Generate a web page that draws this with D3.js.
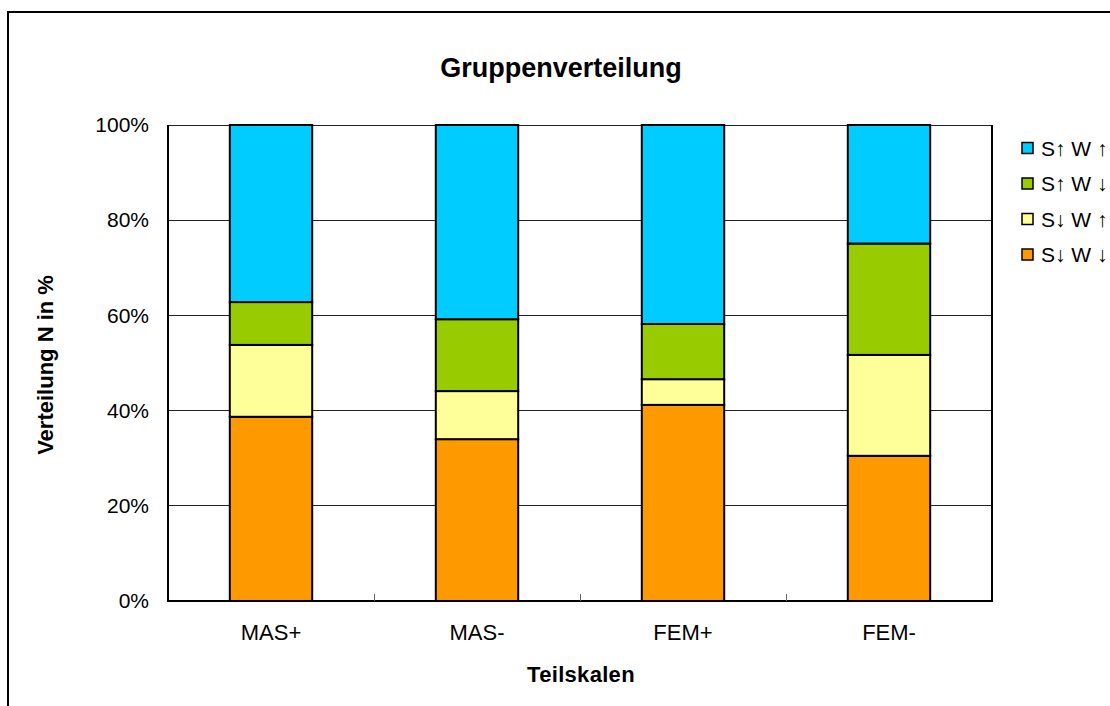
<!DOCTYPE html>
<html><head><meta charset="utf-8">
<script src="https://cdn.jsdelivr.net/npm/d3@7/dist/d3.min.js"></script>
<style>body{margin:0;background:#fff;} text{font-family:"Liberation Sans",Arial,sans-serif;}</style>
</head><body>
<svg id="c" width="1110" height="706"></svg>
<script>
const categories = ["MAS+", "MAS-", "FEM+", "FEM-"];
const seriesNames = ["S↓ W ↓", "S↓ W ↑", "S↑ W ↓", "S↑ W ↑"];
const sDownWDown = [38.7, 34.0, 41.2, 30.5];
const sDownWUp   = [15.1, 10.1, 5.4, 21.2];
const sUpWDown   = [9.0, 15.1, 11.6, 23.4];
const sUpWUp     = [37.2, 40.8, 41.8, 24.9];
const yTicks = [0, 20, 40, 60, 80, 100];
const colors = ["#FF9900", "#FFFF99", "#99CC00", "#00CCFF"];

const values = [sDownWDown, sDownWUp, sUpWDown, sUpWUp];
const rows = categories.map((c, i) => {
  const r = {cat: c};
  seriesNames.forEach((s, j) => r[s] = values[j][i]);
  return r;
});
const stack = d3.stack().keys(seriesNames)(rows);

const svg = d3.select("#c");
const L = 168, R = 992, T = 125, B = 601;
const x = d3.scaleBand().domain(categories).range([L, R]).paddingInner(0.6).paddingOuter(0.3);
const xb = d3.scaleBand().domain(categories).range([L, R]);
const y = d3.scaleLinear().domain([0, 100]).range([B, T]);
const FF = '"Liberation Sans",Arial,sans-serif';

// outer frame
svg.append("rect").attr("x", 8).attr("y", 12).attr("width", 1130).attr("height", 720)
  .attr("fill", "#fff").attr("stroke", "#000").attr("stroke-width", 2);

// gridlines
svg.append("g").selectAll("line").data(yTicks.filter(t => t > 0)).join("line")
  .attr("x1", L).attr("x2", R).attr("y1", d => y(d)).attr("y2", d => y(d))
  .attr("stroke", "#222").attr("stroke-width", 1).attr("shape-rendering", "crispEdges");

// plot border
svg.append("path").attr("d", `M${L},${T}V${B}H${R}V${T}`).attr("fill", "none")
  .attr("stroke", "#000").attr("stroke-width", 2);

// bars
svg.append("g").selectAll("g").data(stack).join("g")
  .attr("fill", (d, i) => colors[i])
  .selectAll("rect").data(d => d).join("rect")
  .attr("x", d => x(d.data.cat)).attr("width", x.bandwidth())
  .attr("y", d => y(d[1])).attr("height", d => y(d[0]) - y(d[1]))
  .attr("stroke", "#000").attr("stroke-width", 2);

// y axis
const yAxis = d3.axisLeft(y).tickValues(yTicks).tickFormat(d => d + "%").tickSize(0).tickPadding(19);
const gy = svg.append("g").attr("transform", `translate(${L},0)`).call(yAxis);
gy.select(".domain").remove();
gy.selectAll("text").attr("font-size", 21).attr("fill", "#000").style("font-family", FF);

// x axis
const xAxis = d3.axisBottom(x).tickSize(0).tickPadding(23);
const gx = svg.append("g").attr("transform", `translate(0,${B})`).call(xAxis);
gx.select(".domain").remove();
gx.selectAll("text").attr("font-size", 22).attr("fill", "#000").style("font-family", FF);
// category boundary ticks
svg.append("g").selectAll("line").data(categories.slice(1)).join("line")
  .attr("x1", d => xb(d)).attr("x2", d => xb(d)).attr("y1", B).attr("y2", B - 7)
  .attr("stroke", "#666").attr("stroke-width", 1).attr("shape-rendering", "crispEdges");

// title
svg.append("text").attr("x", 561).attr("y", 77).attr("text-anchor", "middle")
  .attr("font-size", 27).attr("font-weight", "bold").text("Gruppenverteilung");
// y title
svg.append("text").attr("transform", "translate(53,365) rotate(-90)").attr("text-anchor", "middle")
  .attr("font-size", 22).attr("font-weight", "bold").text("Verteilung N in %");
// x title
svg.append("text").attr("x", 581).attr("y", 682).attr("text-anchor", "middle")
  .attr("font-size", 22).attr("font-weight", "bold").attr("letter-spacing", 0.3).text("Teilskalen");

// legend (top to bottom: reverse series)
const legendItems = seriesNames.map((s, i) => ({name: s, color: colors[i]})).reverse();
const lg = svg.append("g").selectAll("g").data(legendItems).join("g")
  .attr("transform", (d, i) => `translate(1022,${148 + i * 35.5})`);
lg.append("rect").attr("x", 0).attr("y", -5.5).attr("width", 11).attr("height", 11)
  .attr("fill", d => d.color).attr("stroke", "#000").attr("stroke-width", 1.5);
lg.append("text").attr("x", 19).attr("y", 7.5).attr("font-size", 21).text(d => d.name);
</script>
</body></html>
